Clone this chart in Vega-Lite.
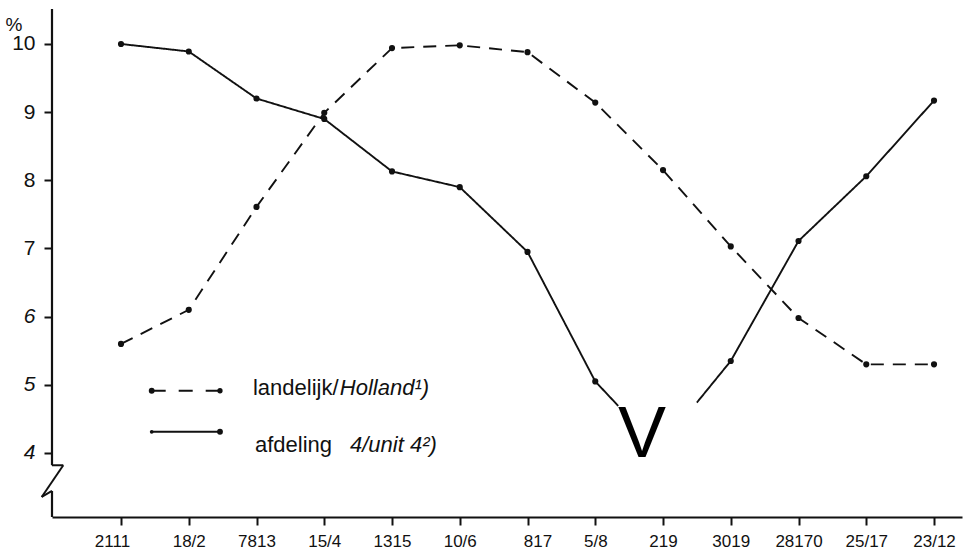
{
  "$schema": "https://vega.github.io/schema/vega-lite/v6.json",
  "width": 910,
  "height": 508,
  "autosize": "none",
  "padding": {"left": 52, "top": 9, "right": 8, "bottom": 39},
  "background": "white",
  "config": {"view": {"stroke": null}, "font": "Liberation Sans"},
  "data": {
    "values": [
      {"series": "landelijk", "seg": "L", "date": "2111", "i": 0, "value": 5.60},
      {"series": "landelijk", "seg": "L", "date": "18/2", "i": 1, "value": 6.10},
      {"series": "landelijk", "seg": "L", "date": "7813", "i": 2, "value": 7.61},
      {"series": "landelijk", "seg": "L", "date": "15/4", "i": 3, "value": 8.99},
      {"series": "landelijk", "seg": "L", "date": "1315", "i": 4, "value": 9.94},
      {"series": "landelijk", "seg": "L", "date": "10/6", "i": 5, "value": 9.98},
      {"series": "landelijk", "seg": "L", "date": "817", "i": 6, "value": 9.88},
      {"series": "landelijk", "seg": "L", "date": "5/8", "i": 7, "value": 9.14},
      {"series": "landelijk", "seg": "L", "date": "219", "i": 8, "value": 8.15},
      {"series": "landelijk", "seg": "L", "date": "3019", "i": 9, "value": 7.03},
      {"series": "landelijk", "seg": "L", "date": "28170", "i": 10, "value": 5.98},
      {"series": "landelijk", "seg": "L", "date": "25/17", "i": 11, "value": 5.30},
      {"series": "landelijk", "seg": "L", "date": "23/12", "i": 12, "value": 5.30},
      {"series": "afdeling", "seg": "A", "date": "2111", "i": 0, "value": 10.00},
      {"series": "afdeling", "seg": "A", "date": "18/2", "i": 1, "value": 9.89},
      {"series": "afdeling", "seg": "A", "date": "7813", "i": 2, "value": 9.20},
      {"series": "afdeling", "seg": "A", "date": "15/4", "i": 3, "value": 8.90},
      {"series": "afdeling", "seg": "A", "date": "1315", "i": 4, "value": 8.13},
      {"series": "afdeling", "seg": "A", "date": "10/6", "i": 5, "value": 7.90},
      {"series": "afdeling", "seg": "A", "date": "817", "i": 6, "value": 6.95},
      {"series": "afdeling", "seg": "A", "date": "5/8", "i": 7, "value": 5.05},
      {"series": "afdeling", "seg": "A", "date": "cut", "i": 7.34, "value": 4.69, "cut": true},
      {"series": "afdeling", "seg": "B", "date": "cut", "i": 8.5, "value": 4.74, "cut": true},
      {"series": "afdeling", "seg": "B", "date": "3019", "i": 9, "value": 5.35},
      {"series": "afdeling", "seg": "B", "date": "28170", "i": 10, "value": 7.11},
      {"series": "afdeling", "seg": "B", "date": "25/17", "i": 11, "value": 8.06},
      {"series": "afdeling", "seg": "B", "date": "23/12", "i": 12, "value": 9.17}
    ]
  },
  "layer": [
    {
      "mark": {"type": "line", "strokeWidth": 1.9, "color": "#111"},
      "encoding": {
        "x": {
          "field": "i", "type": "quantitative",
          "scale": {"domain": [-1.0185, 12.413], "nice": false, "zero": false},
          "axis": {
            "title": null, "values": [0,1,2,3,4,5,6,7,8,9,10,11,12], "grid": false,
            "labelExpr": "['2111','18/2','7813','15/4','1315','10/6','817','5/8','219','3019','28170','25/17','23/12'][datum.value]",
            "labelFontSize": 17, "labelColor": "#111", "labelPadding": 8, "labelFlush": false, "labelOverlap": false,
            "labelOffset": {"condition": [{"test": "datum.value == 0", "value": -9}, {"test": "datum.value == 6", "value": 10}], "value": 0},
            "domainColor": "#111", "domainWidth": 2.2, "tickColor": "#111", "tickWidth": 2, "tickSize": 8
          }
        },
        "y": {
          "field": "value", "type": "quantitative",
          "scale": {"domain": [3.061, 10.513], "nice": false, "zero": false},
          "axis": {
            "title": "%", "titleAngle": 0, "titleX": -47, "titleY": 21, "titleAlign": "left", "titleBaseline": "alphabetic",
            "titleFontSize": 19, "titleFontWeight": "normal", "titleColor": "#111",
            "values": [4,5,6,7,8,9,10], "format": "d", "grid": false, "domain": false,
            "labelFontSize": 21, "labelColor": "#111", "labelPadding": 9,
            "labelFontStyle": {"condition": {"test": "datum.value <= 6", "value": "italic"}, "value": "normal"},
            "tickColor": "#111", "tickWidth": 2, "tickSize": 8
          }
        },
        "detail": {"field": "seg"},
        "strokeDash": {
          "field": "series", "type": "nominal",
          "scale": {"domain": ["landelijk", "afdeling"], "range": [[13, 9], [1, 0]]},
          "legend": null
        }
      }
    },
    {
      "transform": [{"filter": "datum.cut !== true"}],
      "mark": {"type": "circle", "size": 38, "color": "#111", "opacity": 1},
      "encoding": {
        "x": {"field": "i", "type": "quantitative"},
        "y": {"field": "value", "type": "quantitative"}
      }
    },
    {
      "data": {"values": [{}]},
      "mark": {"type": "rule", "strokeWidth": 2.2, "color": "#111"},
      "encoding": {"x": {"datum": -1.0185}, "y": {"datum": 10.513}, "y2": {"datum": 3.82}}
    },
    {
      "data": {"values": [{}]},
      "mark": {"type": "rule", "strokeWidth": 2, "color": "#111"},
      "encoding": {"x": {"datum": -1.0185}, "y": {"datum": 3.82}, "x2": {"datum": -0.852}, "y2": {"datum": 3.82}}
    },
    {
      "data": {"values": [{}]},
      "mark": {"type": "rule", "strokeWidth": 2, "color": "#111"},
      "encoding": {"x": {"datum": -0.852}, "y": {"datum": 3.82}, "x2": {"datum": -1.1705}, "y2": {"datum": 3.355}}
    },
    {
      "data": {"values": [{}]},
      "mark": {"type": "rule", "strokeWidth": 2, "color": "#111"},
      "encoding": {"x": {"datum": -1.1705}, "y": {"datum": 3.355}, "x2": {"datum": -1.0185}, "y2": {"datum": 3.443}}
    },
    {
      "data": {"values": [{}]},
      "mark": {"type": "rule", "strokeWidth": 2.2, "color": "#111"},
      "encoding": {"x": {"datum": -1.0185}, "y": {"datum": 3.443}, "y2": {"datum": 3.061}}
    },
    {
      "data": {"values": [{}]},
      "mark": {"type": "rule", "strokeWidth": 1.9, "color": "#111", "strokeDash": [14, 13]},
      "encoding": {"x": {"datum": 0.453}, "x2": {"datum": 1.461}, "y": {"datum": 4.913}}
    },
    {
      "data": {"values": [{}]},
      "mark": {"type": "circle", "size": 34, "color": "#111", "opacity": 1},
      "encoding": {"x": {"datum": 0.453}, "y": {"datum": 4.913}}
    },
    {
      "data": {"values": [{}]},
      "mark": {"type": "circle", "size": 28, "color": "#111", "opacity": 1},
      "encoding": {"x": {"datum": 1.461}, "y": {"datum": 4.913}}
    },
    {
      "data": {"values": [{}]},
      "mark": {"type": "rule", "strokeWidth": 1.9, "color": "#111"},
      "encoding": {"x": {"datum": 0.453}, "x2": {"datum": 1.461}, "y": {"datum": 4.311}}
    },
    {
      "data": {"values": [{}]},
      "mark": {"type": "circle", "size": 14, "color": "#111", "opacity": 1},
      "encoding": {"x": {"datum": 0.453}, "y": {"datum": 4.311}}
    },
    {
      "data": {"values": [{}]},
      "mark": {"type": "circle", "size": 34, "color": "#111", "opacity": 1},
      "encoding": {"x": {"datum": 1.461}, "y": {"datum": 4.311}}
    },
    {
      "data": {"values": [{}]},
      "mark": {"type": "text", "text": "landelijk/", "fontSize": 22, "align": "left", "baseline": "alphabetic", "color": "#111"},
      "encoding": {"x": {"datum": 1.948}, "y": {"datum": 4.847}}
    },
    {
      "data": {"values": [{}]},
      "mark": {"type": "text", "text": "Holland¹)", "fontSize": 22, "fontStyle": "italic", "align": "left", "baseline": "alphabetic", "color": "#111"},
      "encoding": {"x": {"datum": 3.23}, "y": {"datum": 4.847}}
    },
    {
      "data": {"values": [{}]},
      "mark": {"type": "text", "text": "afdeling", "fontSize": 22, "align": "left", "baseline": "alphabetic", "color": "#111"},
      "encoding": {"x": {"datum": 1.978}, "y": {"datum": 4.01}}
    },
    {
      "data": {"values": [{}]},
      "mark": {"type": "text", "text": "4/unit 4²)", "fontSize": 22, "fontStyle": "italic", "align": "left", "baseline": "alphabetic", "color": "#111"},
      "encoding": {"x": {"datum": 3.38}, "y": {"datum": 4.01}}
    },
    {
      "data": {"values": [{}]},
      "mark": {"type": "text", "text": "V", "fontSize": 72, "align": "center", "baseline": "alphabetic", "color": "#000"},
      "encoding": {"x": {"datum": 7.69}, "y": {"datum": 3.937}}
    }
  ]
}
